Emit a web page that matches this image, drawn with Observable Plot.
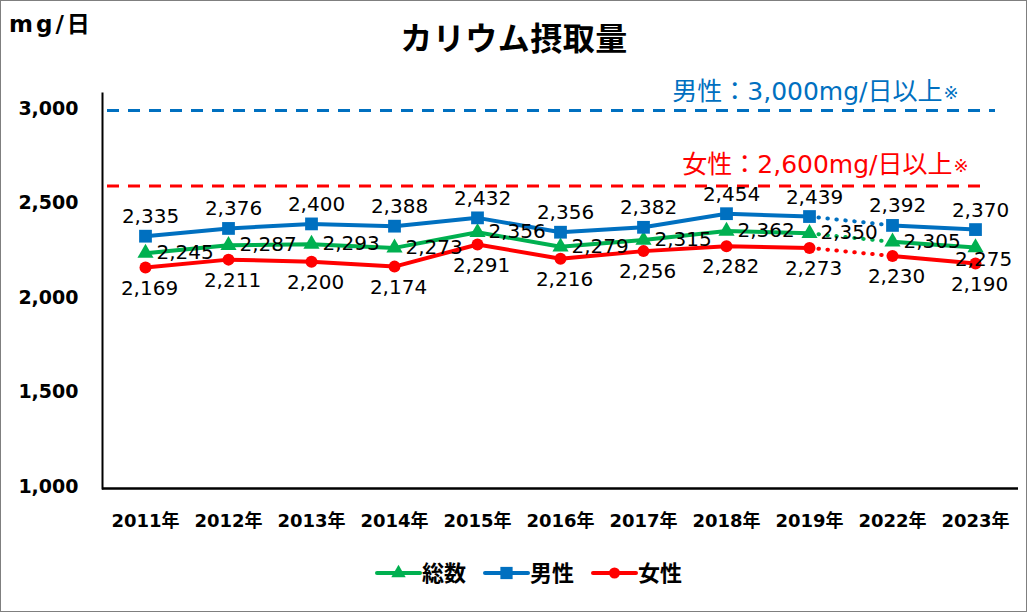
<!DOCTYPE html>
<html><head><meta charset="utf-8">
<script src="https://cdn.jsdelivr.net/npm/d3@7"></script>
<script src="https://cdn.jsdelivr.net/npm/@observablehq/plot@0.6"></script>
<style>
html,body{margin:0;padding:0;background:#fff;}
#chart svg{display:block;}
</style></head><body><div id="chart"></div>
<script>
const years = ["2011年","2012年","2013年","2014年","2015年","2016年","2017年","2018年","2019年","2022年","2023年"];
const totalValues  = [2245,2287,2293,2273,2356,2279,2315,2362,2350,2305,2275];
const maleValues   = [2335,2376,2400,2388,2432,2356,2382,2454,2439,2392,2370];
const femaleValues = [2169,2211,2200,2174,2291,2216,2256,2282,2273,2230,2190];
const seriesNames  = ["総数","男性","女性"];
const seriesColors = ["#00B050","#0070C0","#FF0000"];
const seriesSymbols = ["triangle","square","circle"];
const yTicks = [1000,1500,2000,2500,3000];
const refValues = [3000, 2600];
const refLabels = ["男性：3,000mg/日以上", "女性：2,600mg/日以上"];
const refNote = "※";
const refColors = ["#0070C0", "#FF0000"];
const titleText = "カリウム摂取量";
const unitText = "mg/日";
const lastBeforeGap = "2019年";
const firstAfterGap = "2022年";

const FONT = "'DejaVu Sans','Noto Sans CJK JP',sans-serif";
const fmt = d3.format(",");
const seriesValues = [totalValues, maleValues, femaleValues];
const gapIdx = years.indexOf(lastBeforeGap);

const rows = [];
seriesNames.forEach((s, si) => years.forEach((y, i) => rows.push({
  series: s, year: y, value: seriesValues[si][i], seg: i <= gapIdx ? 0 : 1, idx: i
})));
const refs = refValues.map((v, i) => ({value: v, label: refLabels[i], color: refColors[i]}));

const lineMarks = [], dotMarks = [], labelMarks = [];
seriesNames.forEach((s, si) => {
  const data = rows.filter(d => d.series === s);
  const color = seriesColors[si];
  lineMarks.push(Plot.line(data, {x: "year", y: "value", z: "seg", stroke: color, strokeWidth: 4, curve: "linear"}));
  lineMarks.push(Plot.line(data.filter(d => d.year === lastBeforeGap || d.year === firstAfterGap),
    {x: "year", y: "value", stroke: color, strokeWidth: 4, strokeDasharray: "0.5 8.5", strokeLinecap: "round"}));
  const r = seriesSymbols[si] === "square" ? 7.2 : 6;
  dotMarks.push(Plot.dot(data, {x: "year", y: "value", symbol: () => seriesSymbols[si], fill: color, r}));
});
const lblStyle = {x: "year", y: "value", text: d => fmt(d.value), fontSize: 20, fill: "#000", lineAnchor: "bottom"};
const totalRows = rows.filter(d => d.series === seriesNames[0]);
labelMarks.push(Plot.text(totalRows.filter(d => d.idx < years.length - 1), {...lblStyle, textAnchor: "start", dx: 11, dy: 6}));
labelMarks.push(Plot.text(totalRows.filter(d => d.idx === years.length - 1), {...lblStyle, textAnchor: "middle", dx: 8, dy: 18}));
labelMarks.push(Plot.text(rows.filter(d => d.series === seriesNames[1]), {...lblStyle, textAnchor: "middle", dx: 5, dy: -13}));
labelMarks.push(Plot.text(rows.filter(d => d.series === seriesNames[2]), {...lblStyle, textAnchor: "middle", dx: 4, dy: 27}));

const chart = Plot.plot({
  width: 1027, height: 612,
  marginTop: 93, marginBottom: 124, marginLeft: 102, marginRight: 9,
  style: {fontFamily: FONT, background: "#fff", color: "#000", overflow: "visible"},
  x: {type: "point", domain: years, padding: 0.5},
  y: {domain: [1000, 3090]},
  marks: [
    Plot.ruleY([refs[0]], {y: "value", stroke: refs[0].color, strokeWidth: 3, strokeDasharray: "12 9", insetLeft: 5, insetRight: 23}),
    Plot.ruleY([refs[1]], {y: "value", stroke: refs[1].color, strokeWidth: 3, strokeDasharray: "12 9", insetLeft: 5, insetRight: 35}),
    Plot.text([refs[0]], {y: "value", text: "label", frameAnchor: "right", textAnchor: "end", lineAnchor: "bottom", dx: -76, dy: -11, fill: refs[0].color, fontSize: 25}),
    Plot.text([refs[0]], {y: "value", text: () => refNote, frameAnchor: "right", textAnchor: "start", lineAnchor: "bottom", dx: -75, dy: -12, fill: refs[0].color, fontSize: 18}),
    Plot.text([refs[1]], {y: "value", text: "label", frameAnchor: "right", textAnchor: "end", lineAnchor: "bottom", dx: -66, dy: -13, fill: refs[1].color, fontSize: 25}),
    Plot.text([refs[1]], {y: "value", text: () => refNote, frameAnchor: "right", textAnchor: "start", lineAnchor: "bottom", dx: -65, dy: -14, fill: refs[1].color, fontSize: 18}),
    Plot.axisY(yTicks, {tickSize: 0, tickPadding: 24, fontSize: 19, fontWeight: "bold", dy: -2, tickFormat: fmt, label: null}),
    Plot.axisX({tickSize: 0, tickPadding: 26, fontSize: 18, fontWeight: "bold", label: null}),
    Plot.frame({anchor: "left", stroke: "#000", strokeWidth: 2}),
    Plot.ruleY([1000], {stroke: "#000", strokeWidth: 2.5}),
    ...lineMarks,
    ...dotMarks,
    ...labelMarks
  ]
});

const svg = d3.select(chart);
// outer border
svg.append("rect").attr("x", 0.5).attr("y", 0.5).attr("width", 1026).attr("height", 611)
  .attr("fill", "none").attr("stroke", "#7f7f7f").attr("stroke-width", 1);
// title
svg.append("text").attr("x", 514).attr("y", 50).attr("text-anchor", "middle")
  .attr("font-family", FONT).attr("font-weight", "bold").attr("font-size", 32).attr("letter-spacing", 0.5)
  .attr("fill", "#000").text(titleText);
// unit
svg.append("text").attr("x", 9).attr("y", 32).attr("text-anchor", "start")
  .attr("font-family", FONT).attr("font-weight", "bold").attr("font-size", 23).attr("letter-spacing", 3)
  .attr("fill", "#000").text(unitText);
// legend
const lg = svg.append("g").attr("font-family", FONT).attr("font-weight", "bold").attr("font-size", 22).attr("text-anchor", "start");
const legendStart = 377, legendStep = 108, legendY = 573;
const symMap = {triangle: d3.symbolTriangle, square: d3.symbolSquare, circle: d3.symbolCircle};
const symSize = {triangle: 90, square: 150, circle: 95};
seriesNames.forEach((s, i) => {
  const x0 = legendStart + i * legendStep;
  const g = lg.append("g");
  g.append("line").attr("x1", x0).attr("x2", x0 + 43).attr("y1", legendY).attr("y2", legendY)
    .attr("stroke", seriesColors[i]).attr("stroke-width", 4).attr("stroke-linecap", "round");
  g.append("path").attr("d", d3.symbol(symMap[seriesSymbols[i]], symSize[seriesSymbols[i]])())
    .attr("transform", `translate(${x0 + 21.5},${legendY})`).attr("fill", seriesColors[i]);
  g.append("text").attr("x", x0 + 45).attr("y", legendY + 8).attr("text-anchor", "start").attr("fill", "#000").text(s);
});
document.getElementById("chart").appendChild(chart);
</script>
</body></html>
